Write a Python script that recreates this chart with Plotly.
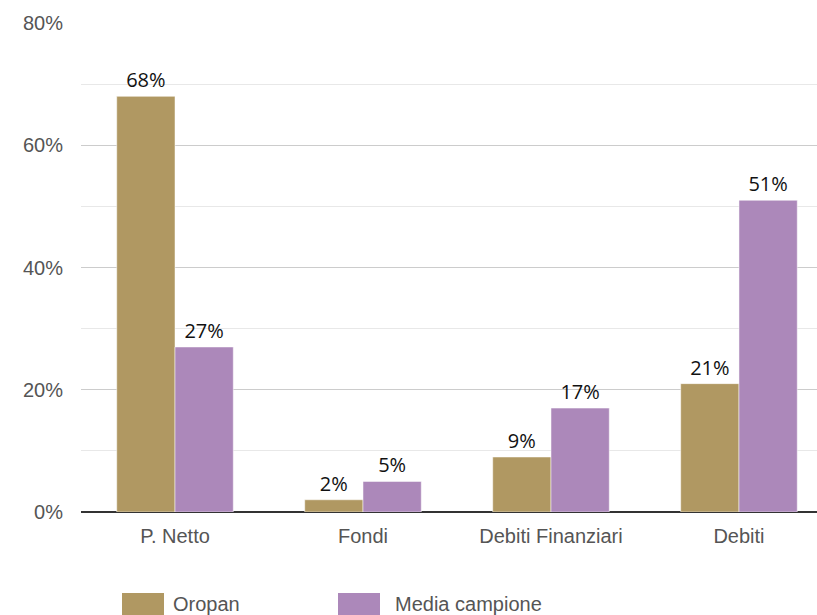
import plotly.graph_objects as go

categories = ["P. Netto", "Fondi", "Debiti Finanziari", "Debiti"]
oropan = [68, 2, 9, 21]
media = [27, 5, 17, 51]
series_names = ["Oropan", "Media campione"]
colors = ["#B09862", "#AC88BA"]
y_ticks = [0, 20, 40, 60, 80]

fig = go.Figure()
for name, vals, col in zip(series_names, [oropan, media], colors):
    fig.add_trace(go.Bar(
        x=categories, y=vals, name=name,
        marker=dict(color=col, line=dict(color="white", width=0.5)),
        texttemplate="%{y}%", textposition="outside",
        textfont=dict(family="Open Sans", size=20, color="#111"),
        cliponaxis=False,
    ))

W, H = 817, 615
ml, mt, mb = 81, 23, 103
fig.update_layout(
    width=W, height=H, autosize=False,
    margin=dict(l=ml, r=0, t=mt, b=mb),
    paper_bgcolor="white", plot_bgcolor="white",
    barmode="group", bargap=0.38, bargroupgap=0.0,
    showlegend=False,
    font=dict(family="Liberation Sans, Arial", size=20, color="#555"),
    xaxis=dict(range=[-0.5, 3.415], showgrid=False, ticks="", showline=False,
               tickfont=dict(size=20, color="#555"), ticklabelstandoff=10),
    yaxis=dict(range=[0, 80], tickvals=y_ticks, ticktext=[f"{v}%" for v in y_ticks],
               showgrid=True, gridcolor="#CCCCCC", gridwidth=1.3,
               minor=dict(dtick=10, tick0=0, showgrid=True, gridcolor="#E8E8E8", gridwidth=1),
               zeroline=True, zerolinecolor="#333", zerolinewidth=2,
               tickfont=dict(size=20, color="#555"), ticklabelstandoff=17),
)

# custom legend with large swatches
plot_w = W - ml
def px2paper_x(px):
    return (px - ml) / plot_w
plot_h = H - mt - mb
def px2paper_y(py):
    return (H - mb - py) / plot_h

legend_items = [(122, 164, 171), (338, 380, 393)]
for (x0, x1, tx), name, col in zip(legend_items, series_names, colors):
    fig.add_shape(type="rect", xref="paper", yref="paper",
                  x0=px2paper_x(x0), x1=px2paper_x(x1),
                  y0=px2paper_y(615), y1=px2paper_y(593),
                  fillcolor=col, line=dict(width=0))
    fig.add_annotation(xref="paper", yref="paper", x=px2paper_x(tx), y=px2paper_y(604),
                       xanchor="left", yanchor="middle", text=name, showarrow=False,
                       font=dict(size=20, color="#555"))

fig.write_html("out.html", config={"displayModeBar": False},
               post_script="document.body.style.margin='0';document.body.style.overflow='hidden';")
